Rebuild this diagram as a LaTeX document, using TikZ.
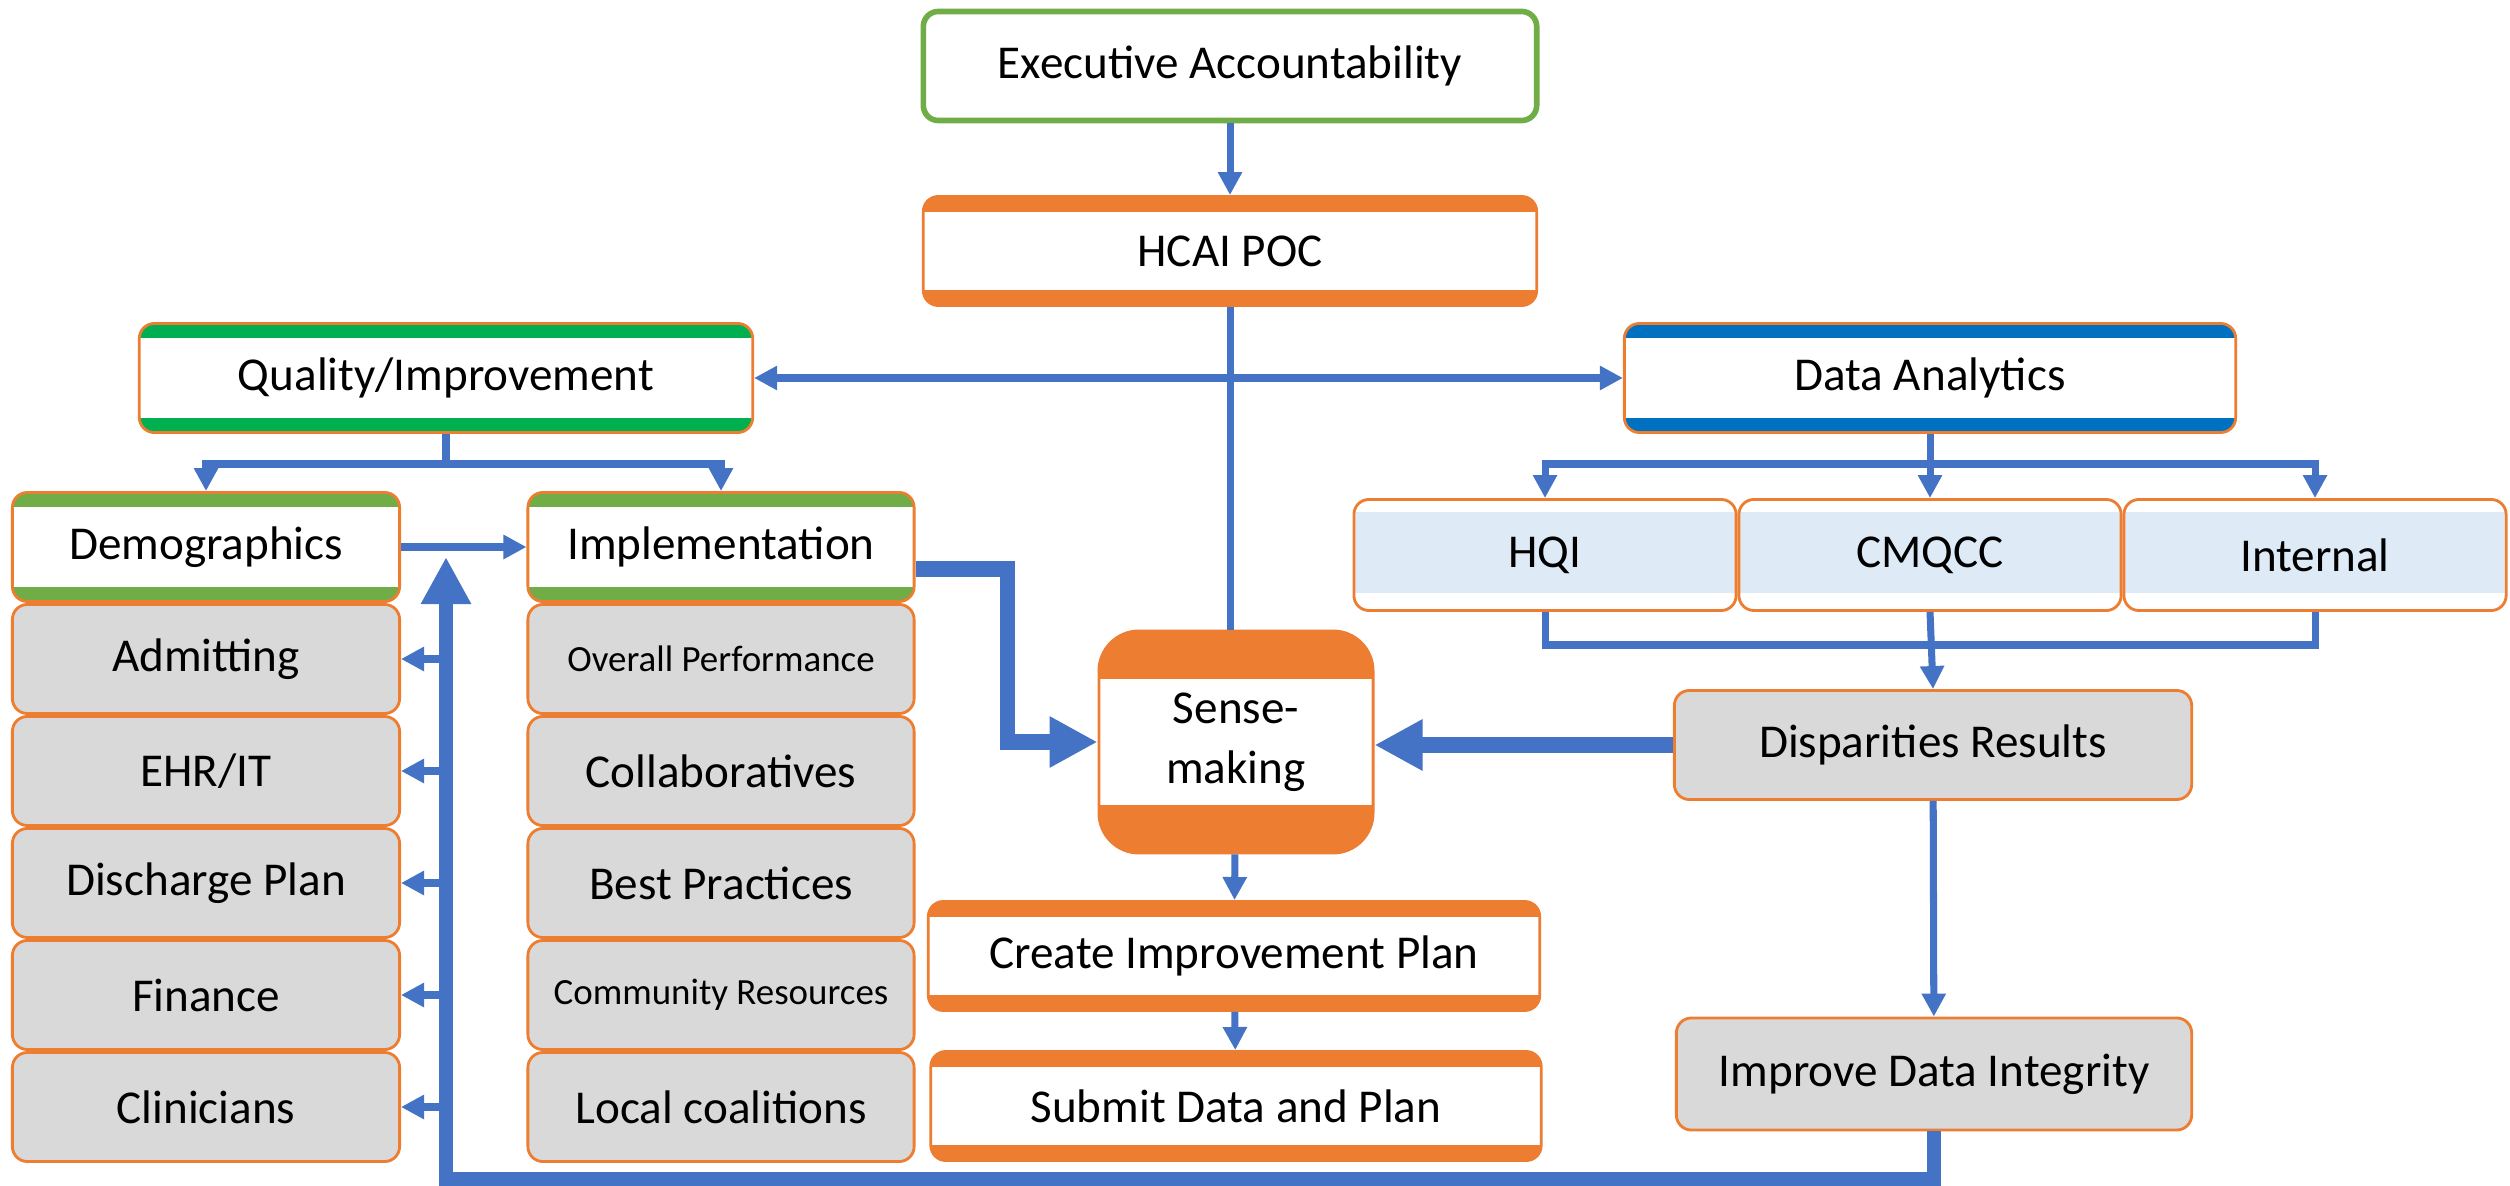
\documentclass[tikz,border=0pt]{standalone}
\usepackage{fontspec}
\setmainfont{Carlito}
\usetikzlibrary{arrows.meta,calc}

\definecolor{linkblue}{HTML}{4472C4}
\definecolor{boxorange}{HTML}{ED7D31}
\definecolor{leafgreen}{HTML}{70AD47}
\definecolor{brightgreen}{HTML}{00B050}
\definecolor{deepblue}{HTML}{0070C0}
\definecolor{cellgray}{HTML}{D9D9D9}
\definecolor{paleblue}{HTML}{DEEBF7}

\tikzset{
  every box/.style={rounded corners=0.15cm, draw=boxorange, line width=0.8pt,
    minimum width=3.87cm, minimum height=1.09cm, inner sep=0pt, align=center,
    font=\fontsize{13.4}{16}\selectfont},
  small text/.style={font=\fontsize{10.5}{12}\selectfont},
  banded/.style 2 args={every box, fill=white, path picture={
    \fill[#1, sharp corners] (path picture bounding box.north west)
      rectangle ([yshift=-#2]path picture bounding box.north east);
    \fill[#1, sharp corners] (path picture bounding box.south west)
      rectangle ([yshift=#2]path picture bounding box.south east);}},
  cell/.style={every box, fill=cellgray},
  source/.style={every box, fill=white, minimum width=3.82cm, minimum height=1.11cm,
    path picture={
    \fill[paleblue, sharp corners] ([yshift=-0.13cm]path picture bounding box.north west)
      rectangle ([yshift=0.18cm]path picture bounding box.south east);}},
  top box/.style={every box, draw=leafgreen, line width=1.6pt, fill=white, minimum width=6.13cm},
  resource 1/.style={small text},
  resource 4/.style={small text},
  link/.style={draw=linkblue, line width=2pt},
  fat/.style={draw=linkblue, line width=4.5pt, -{Triangle[length=0.48cm, width=0.48cm]}}
}

\begin{document}
\begin{tikzpicture}[x=0.01cm, y=-0.01cm, >={Triangle[length=0.23cm, width=0.23cm]}]
\useasboundingbox (0,0) rectangle (2510,1186);

% top of the chain
\node [top box] (exec) at (1230,66) {Executive Accountability};
\node [banded={boxorange}{0.16cm}, minimum width=6.13cm] (hcai) at (1230,251) {HCAI POC};

% two branches
\node [banded={brightgreen}{0.15cm}, minimum width=6.13cm] (quality) at (446,378) {Quality/Improvement};
\node [banded={deepblue}{0.15cm}, minimum width=6.11cm] (analytics) at (1930,378) {Data Analytics};

% quality side
\node [banded={leafgreen}{0.15cm}] (demo) at (206,547) {Demographics};
\node [banded={leafgreen}{0.15cm}, minimum width=3.86cm] (impl) at (721,547) {Implementation};

\foreach \l [count=\i] in {Admitting, EHR/IT, Discharge Plan, Finance, Clinicians}
  \node [cell] (dept-\i) at (206,547+112*\i) {\l};

\foreach \l [count=\i] in {Overall Performance, Collaboratives, Best Practices, Community Resources, Local coalitions}
  \node [cell, minimum width=3.86cm, resource \i/.try] (resource-\i) at (721,547+112*\i) {\l};

% analytics side
\foreach \m/\x in {hqi/1545, cmqcc/1930, internal/2315}
  \coordinate (\m-pos) at (\x,555);
\node [source] (hqi) at (hqi-pos) {HQI};
\node [source] (cmqcc) at (cmqcc-pos) {CMQCC};
\node [source] (internal) at (internal-pos) {Internal};

\node [cell, minimum width=5.17cm] (disp) at (1933,745) {Disparities Results};
\node [cell, minimum width=5.15cm, minimum height=1.12cm] (integrity) at (1934,1074) {Improve Data Integrity};

% centre column
\node [banded={boxorange}{0.48cm}, rounded corners=0.4cm, minimum width=2.74cm,
  minimum height=2.22cm, font=\fontsize{13.4}{17}\selectfont] (sense) at (1236,742) {Sense-\\making};
\node [banded={boxorange}{0.16cm}, minimum width=6.11cm] (plan) at (1234,956) {Create Improvement Plan};
\node [banded={boxorange}{0.16cm}, minimum width=6.1cm] (submit) at (1236,1106) {Submit Data and Plan};

% split points
\coordinate (qsplit) at (446,464);
\coordinate (asplit) at (1930,464);
\coordinate (amerge) at (1930,645);
\coordinate (rettip) at (446,557);

% thin connectors
\draw [link, ->] (exec) -- (hcai);
\draw [link] (hcai.south) -- (hcai.south |- sense.north);
\draw [link, <->] (quality) -- (analytics);
\draw [link, ->] (quality.south) -- (qsplit) -| (demo.north);
\draw [link, ->] (qsplit) -| (impl.north);
\draw [link, ->] (analytics.south) -- (asplit) -| (hqi.north);
\draw [link, ->] (asplit) -| (internal.north);
\draw [link, ->] (asplit) -- (cmqcc.north);
\draw [link] (hqi.south) |- (amerge) -| (internal.south);
\draw [link, ->] (cmqcc.south) -- (disp.north);
\draw [link, ->] (disp) -- (integrity);
\draw [link, ->] (sense) -- (plan);
\draw [link, ->] (plan) -- (submit);
\draw [link, ->] (demo.east) -- (impl.west);

% thick connectors
\draw [fat] ([yshift=-0.22cm]impl.east) -- ++(92,0) |- (sense.west);
\draw [fat] (disp.west) -- (disp.west -| sense.east);
\draw [fat, line width=4pt, -{Triangle[length=0.47cm, width=0.47cm]}]
  (integrity.south) -- ++(0,48) -| (rettip);

\foreach \i in {1,...,5}
  \draw [link, ->] (rettip |- dept-\i.east) -- (dept-\i.east);

\end{tikzpicture}
\end{document}
